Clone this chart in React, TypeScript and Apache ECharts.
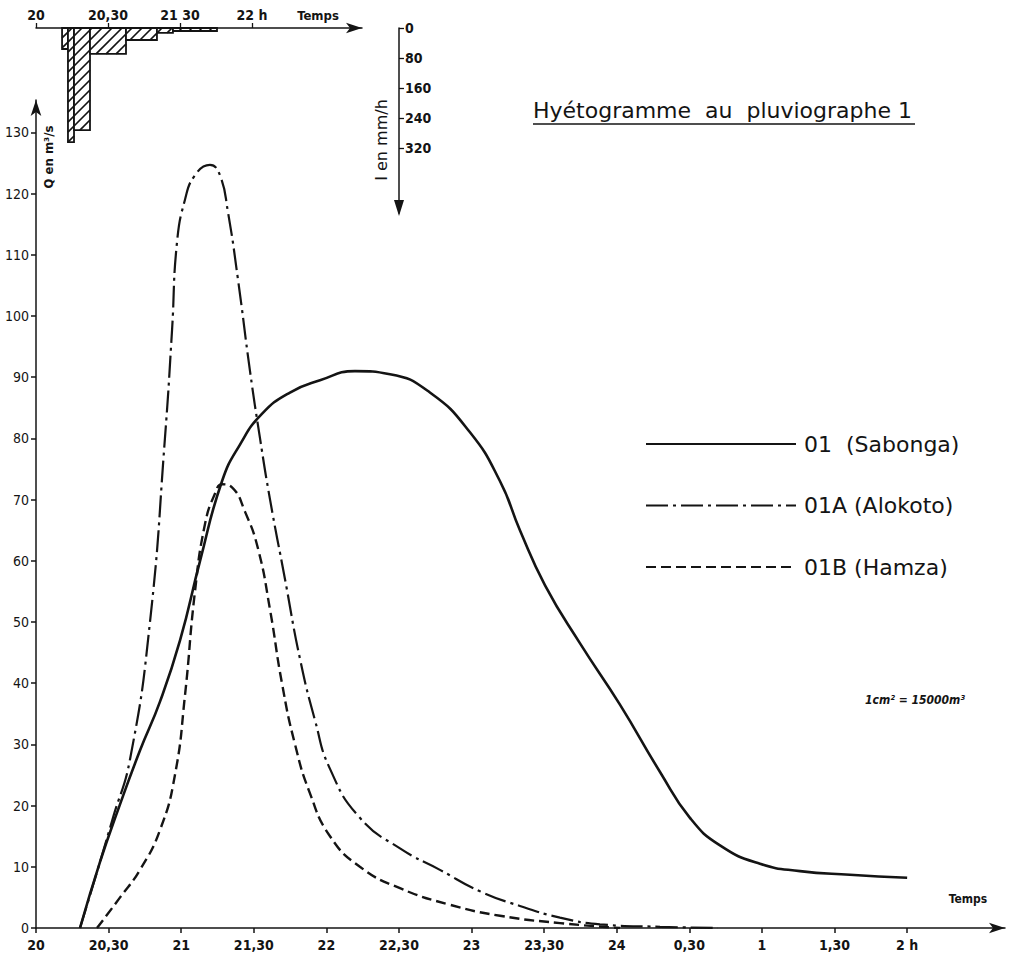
import React, { useEffect, useRef } from 'react';
import * as echarts from 'echarts';

// ---- axis ticks / labels ----
const xTickValues = [0, 0.5, 1, 1.5, 2, 2.5, 3, 3.5, 4, 4.5, 5, 5.5, 6];
const xTickLabels = ['20', '20,30', '21', '21,30', '22', '22,30', '23', '23,30', '24', '0,30', '1', '1,30', '2 h'];
const yTickValues = [0, 10, 20, 30, 40, 50, 60, 70, 80, 90, 100, 110, 120, 130];
const hyetoTickValues = [0, 0.5, 1, 1.5];
const hyetoTickLabels = ['20', '20,30', '21 30', '22 h'];
const intensityTicks = [0, 80, 160, 240, 320];

// ---- hydrographs (time in hours after 20 h, Q in m3/s) ----
const sabongaT = [0.303, 0.441, 0.565, 0.716, 0.854, 0.992, 1.13, 1.281, 1.405, 1.556, 1.749, 1.956, 2.197, 2.438, 2.713, 2.989, 3.196, 3.333, 3.506, 3.747, 4.022, 4.298, 4.504, 4.711, 4.986, 5.262, 5.606, 6.0];
const sabongaQ = [0, 10.8, 19.3, 29, 37, 47, 60, 73, 79, 84, 87.5, 89.5, 91, 90.5, 87.5, 81, 73, 65, 56, 46.5, 36.5, 25.5, 18, 13.5, 10.5, 9.3, 8.7, 8.2];

const alokotoT = [0.303, 0.441, 0.53, 0.647, 0.785, 0.888, 0.937, 0.971, 1.026, 1.095, 1.198, 1.267, 1.322, 1.391, 1.474, 1.543, 1.612, 1.715, 1.818, 1.921, 2.025, 2.231, 2.507, 2.782, 3.058, 3.333, 3.609, 3.884, 4.298, 4.697];
const alokotoQ = [0, 10.8, 18, 27.5, 50, 80, 97.7, 112, 119, 123, 124.7, 123, 117, 106, 91, 80, 70, 57, 44, 34, 26, 18, 13, 9.5, 6, 3.6, 1.7, 0.6, 0.2, 0];

const hamzaT = [0.42, 0.579, 0.716, 0.854, 0.957, 1.026, 1.095, 1.164, 1.233, 1.281, 1.35, 1.44, 1.529, 1.612, 1.694, 1.784, 1.887, 2.025, 2.231, 2.507, 2.851, 3.196, 3.609, 4.022];
const hamzaQ = [0, 5, 9.5, 16, 25, 38, 55, 66, 71, 72.5, 72, 68, 62, 52, 40, 30, 22, 15, 10, 6.5, 3.8, 2, 0.8, 0];

// ---- hyetogram (pluviographe 1): start, end (hours after 20 h), intensity mm/h ----
const hyetoStart = [0.181, 0.222, 0.264, 0.375, 0.625, 0.84, 0.951];
const hyetoEnd = [0.222, 0.264, 0.375, 0.625, 0.84, 0.951, 1.257];
const hyetoIntensity = [56, 304, 272, 69, 32, 13, 8];

const seriesNames = ['01  (Sabonga)', '01A (Alokoto)', '01B (Hamza)'];

const FONT = '"DejaVu Sans Condensed", "DejaVu Sans", sans-serif';
const WIDE = '"DejaVu Sans", sans-serif';
const INK = '#141414';

function pairs(t: number[], q: number[]) {
  return t.map((v, i) => [v, q[i]]);
}

export default function App() {
  const ref = useRef<HTMLDivElement>(null);
  useEffect(() => {
    if (!ref.current) return;
    const chart = echarts.init(ref.current, undefined, { renderer: 'svg' });
    const hyetoData = hyetoStart.map((s, i) => [s, hyetoEnd[i], hyetoIntensity[i]]);

    const option: any = {
      animation: false,
      backgroundColor: '#ffffff',
      grid: [
        { left: 36, right: 4, top: 100, bottom: 35, containLabel: false },
        { left: 36, top: 28, width: 326, height: 185, containLabel: false },
      ],
      xAxis: [
        {
          type: 'value', gridIndex: 0, min: 0, max: 6.674,
          splitLine: { show: false },
          axisLine: { show: true, lineStyle: { color: INK, width: 1.5 }, symbol: ['none', 'arrow'], symbolSize: [8, 16] },
          axisTick: { show: true, length: 5, lineStyle: { color: INK, width: 1.5 }, customValues: xTickValues },
          axisLabel: {
            show: true, customValues: xTickValues, margin: 10, color: INK, fontSize: 14, fontWeight: 'bold', fontFamily: FONT,
            formatter: (v: number) => { const i = xTickValues.findIndex((x) => Math.abs(x - v) < 1e-6); return i >= 0 ? xTickLabels[i] : ''; },
          },
        },
        {
          type: 'value', gridIndex: 1, min: 0, max: 2.264, position: 'top',
          splitLine: { show: false },
          axisLine: { show: true, onZero: false, lineStyle: { color: INK, width: 1.5 }, symbol: ['none', 'arrow'], symbolSize: [8, 16] },
          axisTick: { show: true, length: 5, lineStyle: { color: INK, width: 1.3 }, customValues: hyetoTickValues },
          axisLabel: {
            show: true, customValues: hyetoTickValues, margin: 6, color: INK, fontSize: 14, fontWeight: 'bold', fontFamily: FONT,
            formatter: (v: number) => { const i = hyetoTickValues.findIndex((x) => Math.abs(x - v) < 1e-6); return i >= 0 ? hyetoTickLabels[i] : ''; },
          },
        },
      ],
      yAxis: [
        {
          type: 'value', gridIndex: 0, min: 0, max: 135.3,
          splitLine: { show: false },
          axisLine: { show: true, lineStyle: { color: INK, width: 1.5 }, symbol: ['none', 'arrow'], symbolSize: [8, 16] },
          axisTick: { show: true, length: 5, lineStyle: { color: INK, width: 1.5 }, customValues: yTickValues },
          axisLabel: { show: true, customValues: yTickValues, margin: 7, color: INK, fontSize: 14, fontFamily: FONT, formatter: (v: number) => String(v) },
        },
        {
          type: 'value', gridIndex: 1, min: 0, max: 493, inverse: true, position: 'right', offset: 37,
          splitLine: { show: false },
          axisLine: { show: true, onZero: false, lineStyle: { color: INK, width: 1.5 } },
          axisTick: { show: true, length: 5, lineStyle: { color: INK, width: 1.3 }, customValues: intensityTicks },
          axisLabel: { show: true, customValues: intensityTicks, margin: 6, color: INK, fontSize: 14, fontWeight: 'bold', fontFamily: FONT, formatter: (v: number) => String(v) },
        },
      ],
      legend: {
        orient: 'vertical', left: 640, top: 427,
        itemWidth: 150, itemHeight: 24, itemGap: 37.5,
        data: seriesNames,
        itemStyle: { color: 'transparent', borderColor: 'transparent', borderWidth: 0, opacity: 0 },
        textStyle: { color: INK, fontSize: 22, fontFamily: WIDE, lineHeight: 24, padding: [0, 0, 0, 3] },
      },
      series: [
        {
          name: seriesNames[0], type: 'line', xAxisIndex: 0, yAxisIndex: 0, data: pairs(sabongaT, sabongaQ),
          symbol: 'none', smooth: 0.5,
          lineStyle: { color: INK, width: 2.6, type: 'solid' }, itemStyle: { color: INK },
        },
        {
          name: seriesNames[1], type: 'line', xAxisIndex: 0, yAxisIndex: 0, data: pairs(alokotoT, alokotoQ),
          symbol: 'none', smooth: 0.5,
          lineStyle: { color: INK, width: 2.2, type: [22, 5, 3, 5] }, itemStyle: { color: INK },
        },
        {
          name: seriesNames[2], type: 'line', xAxisIndex: 0, yAxisIndex: 0, data: pairs(hamzaT, hamzaQ),
          symbol: 'none', smooth: 0.5,
          lineStyle: { color: INK, width: 2.4, type: [10, 5] }, itemStyle: { color: INK },
        },
        {
          name: 'hyetogramme', type: 'custom', xAxisIndex: 1, yAxisIndex: 1, data: hyetoData,
          encode: { x: [0, 1], y: [2] },
          renderItem: (params: any, api: any) => {
            const a = api.coord([api.value(0), 0]);
            const b = api.coord([api.value(1), api.value(2)]);
            const left = Math.min(a[0], b[0]);
            const right = Math.max(a[0], b[0]);
            const top = Math.min(a[1], b[1]);
            const bottom = Math.max(a[1], b[1]);
            const children: any[] = [
              { type: 'rect', shape: { x: left, y: top, width: right - left, height: bottom - top }, style: { fill: '#fff', stroke: INK, lineWidth: 1.8 } },
            ];
            const s = 10;
            for (let c = Math.ceil((left + top) / s) * s; c < right + bottom; c += s) {
              const xa = Math.max(left, c - bottom);
              const xb = Math.min(right, c - top);
              if (xb > xa + 0.5) {
                children.push({ type: 'line', shape: { x1: xa, y1: c - xa, x2: xb, y2: c - xb }, style: { stroke: INK, lineWidth: 1.7 } });
              }
            }
            return { type: 'group', children };
          },
        },
      ],
      graphic: [
        { type: 'text', x: 533, y: 110, style: { text: 'Hyétogramme  au  pluviographe 1', font: `22px ${WIDE}`, fill: INK, textVerticalAlign: 'middle' } },
        { type: 'line', shape: { x1: 533, y1: 124, x2: 915, y2: 124 }, style: { stroke: INK, lineWidth: 1.5 } },
        { type: 'polygon', shape: { points: [[394, 200], [404, 200], [399, 216]] }, style: { fill: INK } },
        { type: 'text', x: 318, y: 15, style: { text: 'Temps', font: `bold 13px ${FONT}`, fill: INK, textAlign: 'center', textVerticalAlign: 'middle' } },
        { type: 'text', x: 968, y: 899, style: { text: 'Temps', font: `bold 12px ${FONT}`, fill: INK, textAlign: 'center', textVerticalAlign: 'middle' } },
        { type: 'text', x: 381, y: 140, rotation: Math.PI / 2, style: { text: 'I en mm/h', font: `16px ${WIDE}`, fill: INK, textAlign: 'center', textVerticalAlign: 'middle' } },
        { type: 'text', x: 48, y: 157, rotation: Math.PI / 2, style: { text: 'Q en m³/s', font: `bold 13px ${FONT}`, fill: INK, textAlign: 'center', textVerticalAlign: 'middle' } },
        { type: 'text', x: 915, y: 700, style: { text: '1cm² = 15000m³', font: `italic bold 12px ${FONT}`, fill: INK, textAlign: 'center', textVerticalAlign: 'middle' } },
      ],
    };
    chart.setOption(option);
    return () => chart.dispose();
  }, []);
  return <div ref={ref} style={{ position: 'absolute', left: 0, top: 0, width: 1009, height: 963, background: '#fff' }} />;
}
